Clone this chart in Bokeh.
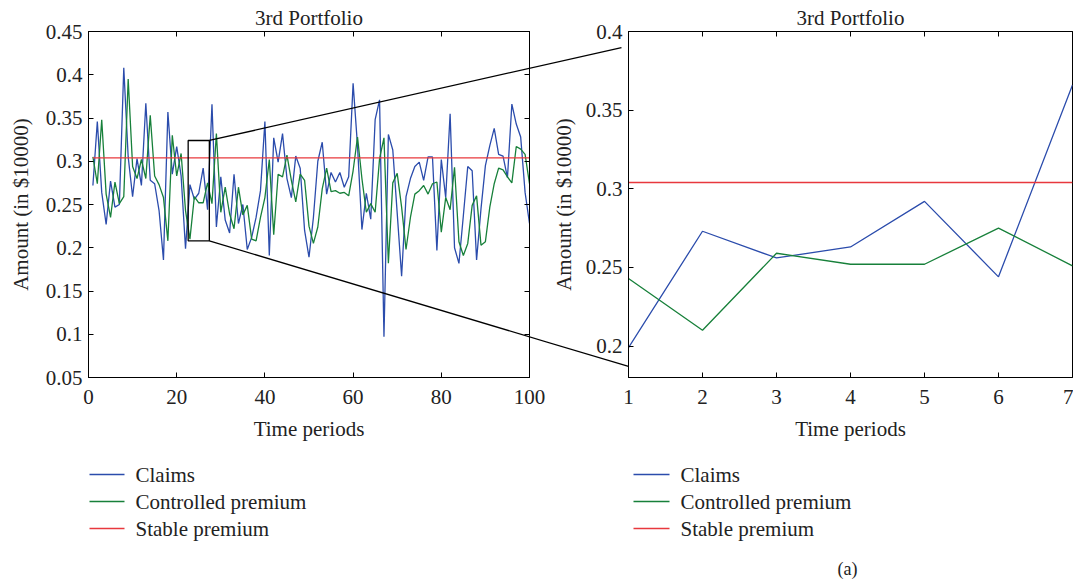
from bokeh.plotting import figure
from bokeh.layouts import row
from bokeh.models import LinearAxis, FixedTicker, BoxAnnotation
from bokeh.core.properties import value
from bokeh.embed import file_html
from bokeh.resources import INLINE

# ---------------- data ----------------
periods = list(range(1, 101))
claims = [0.272, 0.346, 0.264, 0.227, 0.277, 0.247, 0.250, 0.408, 0.305, 0.259,
          0.303, 0.272, 0.367, 0.278, 0.274, 0.243, 0.186, 0.357, 0.285, 0.317,
          0.283, 0.199, 0.273, 0.256, 0.263, 0.292, 0.244, 0.366, 0.224, 0.282,
          0.232, 0.217, 0.285, 0.228, 0.250, 0.198, 0.212, 0.235, 0.266, 0.346,
          0.191, 0.327, 0.299, 0.332, 0.280, 0.258, 0.306, 0.292, 0.220, 0.189,
          0.235, 0.300, 0.322, 0.262, 0.287, 0.276, 0.287, 0.270, 0.282, 0.390,
          0.318, 0.221, 0.263, 0.233, 0.348, 0.371, 0.097, 0.331, 0.313, 0.240,
          0.167, 0.259, 0.280, 0.294, 0.299, 0.278, 0.305, 0.305, 0.197, 0.302,
          0.258, 0.355, 0.200, 0.182, 0.237, 0.294, 0.289, 0.186, 0.245, 0.295,
          0.318, 0.338, 0.308, 0.306, 0.281, 0.366, 0.343, 0.328, 0.264, 0.228]
controlled = [0.305, 0.274, 0.348, 0.262, 0.235, 0.276, 0.251, 0.259, 0.395, 0.294,
              0.280, 0.302, 0.280, 0.353, 0.283, 0.273, 0.258, 0.208, 0.330, 0.283,
              0.309, 0.243, 0.210, 0.259, 0.252, 0.252, 0.275, 0.251, 0.332, 0.241,
              0.270, 0.239, 0.222, 0.270, 0.238, 0.249, 0.210, 0.208, 0.235, 0.258,
              0.302, 0.215, 0.285, 0.282, 0.307, 0.278, 0.253, 0.285, 0.278, 0.225,
              0.205, 0.224, 0.268, 0.292, 0.265, 0.266, 0.263, 0.264, 0.260, 0.289,
              0.328, 0.280, 0.241, 0.251, 0.241, 0.303, 0.327, 0.182, 0.275, 0.286,
              0.247, 0.198, 0.235, 0.262, 0.266, 0.272, 0.262, 0.274, 0.276, 0.218,
              0.258, 0.244, 0.293, 0.207, 0.191, 0.205, 0.249, 0.260, 0.203, 0.207,
              0.247, 0.274, 0.292, 0.290, 0.282, 0.275, 0.317, 0.314, 0.308, 0.274]
stable_premium = 0.304

# zoomed window: periods 22..28 shown as 1..7
zoom_start = 22
zoom_periods = [1, 2, 3, 4, 5, 6, 7]
zoom_claims = claims[zoom_start - 1: zoom_start - 1 + 7]
zoom_controlled = controlled[zoom_start - 1: zoom_start - 1 + 7]

left_xticks = [0, 20, 40, 60, 80, 100]
left_yticks = [0.05, 0.1, 0.15, 0.2, 0.25, 0.3, 0.35, 0.4, 0.45]
left_ylabels = ["0.05", "0.1", "0.15", "0.2", "0.25", "0.3", "0.35", "0.4", "0.45"]
right_xticks = [1, 2, 3, 4, 5, 6, 7]
right_yticks = [0.2, 0.25, 0.3, 0.35, 0.4]
right_ylabels = ["0.2", "0.25", "0.3", "0.35", "0.4"]
legend_labels = ["Claims", "Controlled premium", "Stable premium"]
panel_tag = "(a)"

# zoom box (in left data units) and connector ends (in right data units)
box_x = (22.6, 27.4)
box_y = (0.208, 0.324)
conn_upper_end = (0.905, 0.3898)
conn_lower_end = (1.0, 0.187)

# ---------------- style ----------------
FONT = "Liberation Serif"
BLUE = "#2b4cac"
GREEN = "#17803a"
RED = "#e8383d"
TXT = "#222222"
FS = "21px"

H = 581
W1, W2 = 547, 526
# frame geometry (page pixels)
L_X0, L_X1 = 88, 529
R_X0, R_X1 = 628, 1072
Y_TOP, Y_BOT = 31, 377
L_XR, L_YR = (0, 100), (0.05, 0.45)
R_XR, R_YR = (1, 7), (0.18, 0.4)
LEGEND_ROWS = [474, 501, 528]


def to_screen(x, y, x0, x1, xr, yr):
    sx = x0 + (x - xr[0]) / (xr[1] - xr[0]) * (x1 - x0)
    sy = Y_BOT - (y - yr[0]) / (yr[1] - yr[0]) * (Y_BOT - Y_TOP)
    return sx, sy


def from_screen(sx, sy, x0, x1, xr, yr):
    x = xr[0] + (sx - x0) / (x1 - x0) * (xr[1] - xr[0])
    y = yr[0] + (Y_BOT - sy) / (Y_BOT - Y_TOP) * (yr[1] - yr[0])
    return x, y


def style(p, xticks, yticks, ylabels, mirror_right=True, ylabel_standoff=10):
    p.title.text_font = FONT
    p.title.text_font_size = FS
    p.title.text_font_style = "normal"
    p.title.text_color = TXT
    p.title.align = "center"
    p.title.offset = 0
    p.title.standoff = 3
    p.outline_line_color = "black"
    p.outline_line_width = 1
    p.xgrid.visible = False
    p.ygrid.visible = False
    p.xaxis.ticker = FixedTicker(ticks=xticks)
    p.yaxis.ticker = FixedTicker(ticks=yticks)
    p.yaxis.major_label_overrides = {t: s for t, s in zip(yticks, ylabels)}
    for ax in p.xaxis + p.yaxis:
        ax.axis_line_color = "black"
        ax.major_tick_line_color = "black"
        ax.major_tick_in = 5
        ax.major_tick_out = 0
        ax.minor_tick_line_color = None
        ax.major_label_text_font = FONT
        ax.major_label_text_font_size = FS
        ax.major_label_text_color = TXT
        ax.axis_label_text_font = FONT
        ax.axis_label_text_font_size = FS
        ax.axis_label_text_font_style = "normal"
        ax.axis_label_text_color = TXT
    p.xaxis.major_label_standoff = 12
    p.yaxis.major_label_standoff = 6
    p.xaxis.axis_label_standoff = 10
    p.yaxis.axis_label_standoff = ylabel_standoff
    sides = [("above", xticks)]
    if mirror_right:
        sides.append(("right", yticks))
    for side, ticks in sides:
        ax = LinearAxis(ticker=FixedTicker(ticks=ticks))
        ax.major_label_overrides = {t: "" for t in ticks}
        ax.major_label_text_font_size = "0px"
        ax.major_label_standoff = 0
        ax.axis_line_color = "black"
        ax.major_tick_line_color = "black"
        ax.major_tick_in = 5
        ax.major_tick_out = 0
        ax.minor_tick_line_color = None
        p.add_layout(ax, side)


def manual_legend(p, line_x0, line_x1, text_x, frame):
    x0, x1, xr, yr = frame
    ys = [from_screen(line_x0, sy, x0, x1, xr, yr)[1] for sy in LEGEND_ROWS]
    lx0 = from_screen(line_x0, 0, x0, x1, xr, yr)[0]
    lx1 = from_screen(line_x1, 0, x0, x1, xr, yr)[0]
    tx = from_screen(text_x, 0, x0, x1, xr, yr)[0]
    p.segment(x0=[lx0] * 3, y0=ys, x1=[lx1] * 3, y1=ys,
              line_color=[BLUE, GREEN, RED], line_width=1.3, level="overlay")
    p.text(x=[tx] * 3, y=ys, text=legend_labels, text_font=value(FONT),
           text_font_size=value(FS), text_color=TXT, text_align="left",
           text_baseline="middle", level="overlay")


LEFT_FRAME = (L_X0, L_X1, L_XR, L_YR)
RIGHT_FRAME = (R_X0, R_X1, R_XR, R_YR)

# ---------------- left figure ----------------
p1 = figure(width=W1, height=H, x_range=L_XR, y_range=L_YR, title="3rd Portfolio",
            output_backend="svg", toolbar_location=None,
            min_border_left=L_X0, min_border_right=W1 - L_X1,
            min_border_top=Y_TOP, min_border_bottom=H - Y_BOT,
            x_axis_label="Time periods", y_axis_label="Amount (in $10000)")
style(p1, left_xticks, left_yticks, left_ylabels)
p1.line(periods, claims, color=BLUE, line_width=1.3)
p1.line(periods, controlled, color=GREEN, line_width=1.3)
p1.line([periods[0], periods[-1]], [stable_premium, stable_premium], color=RED, line_width=1.3)
p1.add_layout(BoxAnnotation(left=box_x[0], right=box_x[1], bottom=box_y[0], top=box_y[1],
                            fill_alpha=0, line_color="black", line_alpha=1.0, line_width=1.3,
                            level="overlay"))
manual_legend(p1, 89, 124, 135, LEFT_FRAME)

# connectors
corner_up = (box_x[1], box_y[1])
corner_lo = (box_x[1], box_y[0])
end_up_l = from_screen(*to_screen(*conn_upper_end, *RIGHT_FRAME), *LEFT_FRAME)
end_lo_l = from_screen(*to_screen(*conn_lower_end, *RIGHT_FRAME), *LEFT_FRAME)
p1.segment(x0=[corner_up[0], corner_lo[0]], y0=[corner_up[1], corner_lo[1]],
           x1=[end_up_l[0], end_lo_l[0]], y1=[end_up_l[1], end_lo_l[1]],
           color="black", line_width=1.3, level="overlay")

# ---------------- right figure ----------------
p2 = figure(width=W2, height=H, x_range=R_XR, y_range=R_YR, title="3rd Portfolio",
            output_backend="svg", toolbar_location=None,
            min_border_left=R_X0 - W1, min_border_right=W1 + W2 - R_X1,
            min_border_top=Y_TOP, min_border_bottom=H - Y_BOT,
            x_axis_label="Time periods", y_axis_label="Amount (in $10000)")
style(p2, right_xticks, right_yticks, right_ylabels, mirror_right=False, ylabel_standoff=7)
p2.line(zoom_periods, zoom_claims, color=BLUE, line_width=1.3)
p2.line(zoom_periods, zoom_controlled, color=GREEN, line_width=1.3)
p2.line([zoom_periods[0], zoom_periods[-1]], [stable_premium, stable_premium], color=RED, line_width=1.3)
manual_legend(p2, 633, 669, 680, RIGHT_FRAME)

cu_r = from_screen(*to_screen(*corner_up, *LEFT_FRAME), *RIGHT_FRAME)
cl_r = from_screen(*to_screen(*corner_lo, *LEFT_FRAME), *RIGHT_FRAME)
p2.segment(x0=[cu_r[0], cl_r[0]], y0=[cu_r[1], cl_r[1]],
           x1=[conn_upper_end[0], conn_lower_end[0]], y1=[conn_upper_end[1], conn_lower_end[1]],
           color="black", line_width=1.3, level="overlay")

lab_x, lab_y = from_screen(847, 568, *RIGHT_FRAME)
p2.text(x=[lab_x], y=[lab_y], text=[panel_tag], text_font=value(FONT),
        text_font_size=value("18px"), text_color=TXT, text_align="center",
        text_baseline="middle", level="overlay")

layout = row(p1, p2)
open("out.html", "w").write(file_html(layout, INLINE))
